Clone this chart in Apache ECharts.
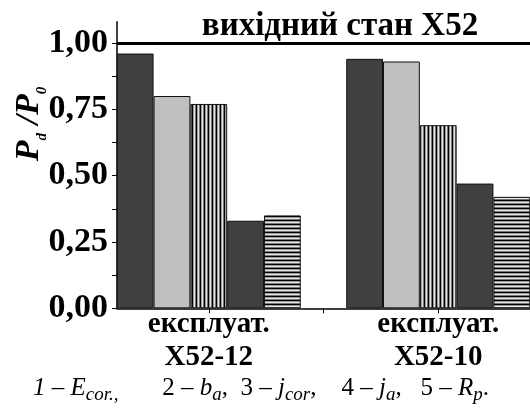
<!DOCTYPE html>
<html>
<head>
<meta charset="utf-8">
<script src="https://cdn.jsdelivr.net/npm/echarts@6/dist/echarts.min.js"></script>
<style>
  html, body { margin: 0; padding: 0; background: #fff; }
  #chart { width: 530px; height: 414px; }
</style>
</head>
<body>
<div id="chart"></div>
<script>
// дані з рисунка
var categories = ['експлуат.\nX52-12', 'експлуат.\nX52-10'];
var catPos = [1, 2];
var seriesNames = ['E_cor', 'b_a', 'j_cor', 'j_a', 'R_p'];
var eCor = [0.96, 0.94];
var bA = [0.80, 0.93];
var jCor = [0.77, 0.69];
var jA = [0.33, 0.47];
var rP = [0.35, 0.42];
var yLabels = [0, 0.25, 0.5, 0.75, 1];
var yTicks = [0, 0.125, 0.25, 0.375, 0.5, 0.625, 0.75, 0.875, 1];
var xTicks = [1, 1.5, 2];
var baseline = 1.0;
var baselineText = 'вихідний стан X52';

var font = 'Liberation Serif';

// штрихування як у Origin
function stripes(vertical) {
    var cols = ['#000000', '#9a9a9a', '#e6e6e6', '#767676'];
    var c = document.createElement('canvas');
    c.width = 4; c.height = 4;
    var ctx = c.getContext('2d');
    for (var i = 0; i < cols.length; i++) {
        ctx.fillStyle = cols[i];
        if (vertical) ctx.fillRect(i, 0, 1, 4);
        else ctx.fillRect(0, i, 4, 1);
    }
    return { image: c, repeat: 'repeat' };
}

var fills = ['#404040', '#c0c0c0', stripes(true), '#404040', stripes(false)];
var values = [eCor, bA, jCor, jA, rP];

var barSeries = values.map(function (v, i) {
    return {
        name: seriesNames[i],
        type: 'bar',
        barWidth: 36.8,
        barGap: '0%',
        itemStyle: { color: fills[i], borderColor: '#111', borderWidth: 1 },
        data: v.map(function (y, j) { return [catPos[j], y]; })
    };
});

var chart = echarts.init(document.getElementById('chart'));
chart.setOption({
    animation: false,
    title: {
        left: 33,
        top: 373,
        padding: 0,
        text: '{m|1 \u2013 E}{s|cor.,}{d|       2 \u2013 }{m|b}{s|a}{d|,  3 \u2013 }{m|j}{s|cor}{d|,    4 \u2013 }{m|j}{s|a}{d|,   5 \u2013 }{m|R}{s|p}{d|.}',
        textStyle: {
            fontWeight: 'normal',
            rich: {
                d: { fontFamily: font, fontSize: 25, fontWeight: 'normal', lineHeight: 31, color: '#000' },
                m: { fontFamily: font, fontSize: 25, fontWeight: 'normal', fontStyle: 'italic', lineHeight: 31, color: '#000' },
                s: { fontFamily: font, fontSize: 19, fontWeight: 'normal', fontStyle: 'italic', lineHeight: 19, verticalAlign: 'bottom', color: '#000' }
            }
        }
    },
    grid: { left: 117, right: 0, top: 21.7, bottom: 105.7, outerBoundsMode: 'none' },
    xAxis: {
        type: 'value',
        min: 0.6,
        max: 2.4,
        axisLine: { show: true, lineStyle: { color: '#000', width: 1.5 } },
        axisTick: { show: true, length: 5, customValues: xTicks, lineStyle: { color: '#000', width: 1 } },
        axisLabel: {
            customValues: catPos,
            margin: 0,
            fontFamily: font,
            fontSize: 29,
            fontWeight: 'bold',
            lineHeight: 33,
            color: '#000',
            formatter: function (v) { return categories[catPos.indexOf(v)] || ''; }
        },
        splitLine: { show: false }
    },
    yAxis: {
        type: 'value',
        min: 0,
        max: 1.08,
        name: '{P|P}{s|d}{P| /P}{s|0}',
        nameLocation: 'middle',
        nameGap: 67,
        nameMoveOverlap: false,
        nameTextStyle: {
            padding: [0, 0, 0, 82],
            rich: {
                P: { fontFamily: font, fontSize: 34, fontStyle: 'italic', fontWeight: 'bold', lineHeight: 42, color: '#000' },
                s: { fontFamily: font, fontSize: 15, fontStyle: 'italic', fontWeight: 'bold', lineHeight: 15, verticalAlign: 'bottom', color: '#000' }
            }
        },
        axisLine: { show: true, lineStyle: { color: '#000', width: 1.5 } },
        axisTick: { show: true, length: 5, customValues: yTicks, lineStyle: { color: '#000', width: 1 } },
        axisLabel: {
            customValues: yLabels,
            margin: 9,
            fontFamily: font,
            fontSize: 34,
            fontWeight: 'bold',
            color: '#000',
            formatter: function (v) { return v.toFixed(2).replace('.', ','); }
        },
        splitLine: { show: false }
    },
    series: barSeries.concat([{
        type: 'line',
        data: [],
        silent: true,
        markLine: {
            silent: true,
            symbol: 'none',
            lineStyle: { color: '#000', width: 3, type: 'solid' },
            label: {
                position: 'insideMiddleTop',
                distance: 0,
                padding: [0, 0, 0, 33],
                formatter: baselineText,
                fontFamily: font,
                fontSize: 33,
                fontWeight: 'bold',
                lineHeight: 33,
                color: '#000'
            },
            data: [{ yAxis: baseline }]
        }
    }])
});
</script>
</body>
</html>
